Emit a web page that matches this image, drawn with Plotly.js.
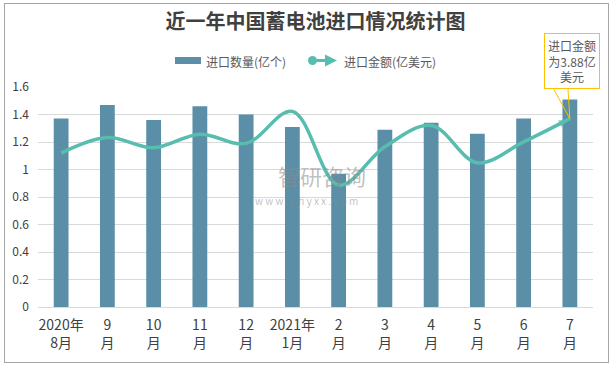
<!DOCTYPE html>
<html>
<head>
<meta charset="utf-8">
<script src="https://cdn.plot.ly/plotly-3.0.1.min.js"></script>
<style>
  html, body { margin: 0; padding: 0; background: #fff; }
  #wrap { position: relative; width: 613px; height: 367px; }
  #chart { position: absolute; left: 0; top: 0; width: 613px; height: 367px; }
  #frame { position: absolute; left: 4px; top: 3px; width: 603px; height: 358px;
           border: 1px solid #A6A6A6; pointer-events: none; }
</style>
</head>
<body>
<div id="wrap">
  <div id="chart"></div>
  <div id="frame"></div>
</div>
<script>
// ---- data ----
const categories = ['2020年<br>8月', '9<br>月', '10<br>月', '11<br>月', '12<br>月', '2021年<br>1月',
                    '2<br>月', '3<br>月', '4<br>月', '5<br>月', '6<br>月', '7<br>月'];
const quantity = [1.37, 1.47, 1.36, 1.46, 1.40, 1.31, 0.97, 1.29, 1.34, 1.26, 1.37, 1.51];   // 亿个
const amount = [3.17, 3.49, 3.28, 3.56, 3.37, 4.03, 2.51, 3.30, 3.74, 2.97, 3.40, 3.88];     // 亿美元
const seriesNames = ['进口数量(亿个)', '进口金额(亿美元)'];
const yTicks = [0, 0.2, 0.4, 0.6, 0.8, 1, 1.2, 1.4, 1.6];
const calloutText = '进口金额<br>为3.88亿<br>美元';

const barColor = '#5B8FA7';
const lineColor = '#56BDAF';
const last = categories.length - 1;

const markerSymbols = categories.map((c, i) => i === last ? 'arrow' : 'circle');
const markerColors = categories.map((c, i) => (i === 0 || i === last) ? lineColor : 'rgba(0,0,0,0)');
const markerSizes = categories.map((c, i) => i === last ? 12 : 11);

const traces = [
  {
    type: 'bar', name: seriesNames[0], x: categories, y: quantity,
    marker: { color: barColor }, yaxis: 'y', showlegend: false
  },
  {
    type: 'scatter', mode: 'lines+markers', name: seriesNames[1], x: categories, y: amount,
    yaxis: 'y2', showlegend: false,
    line: { color: lineColor, width: 3.5, shape: 'spline', smoothing: 1 },
    marker: { symbol: markerSymbols, color: markerColors, size: markerSizes,
              angleref: 'previous', line: { width: 0 } }
  }
];

const yMax = 1.6;
const y2Max = 3.88 / 1.37 * yMax;

// plot area in pixels: x 38..593, y 87..307
const W = 613, H = 367, L = 38, R = 20, T = 87, B = 60;
const pw = W - L - R, ph = H - T - B;
const px = v => (v - L) / pw;
const py = v => (H - B - v) / ph;

const legendFont = { size: 12, color: '#595959' };

const layout = {
  width: W, height: H,
  margin: { l: L, r: R, t: T, b: B, pad: 0 },
  paper_bgcolor: '#fff', plot_bgcolor: '#fff',
  font: { family: '"Noto Sans CJK SC", "Liberation Sans", sans-serif', color: '#595959', size: 12 },
  title: {
    text: '<b>近一年中国蓄电池进口情况统计图</b>',
    font: { family: '"Noto Sans CJK SC", serif', size: 20, color: '#404040' },
    x: 0.5, xref: 'paper', xanchor: 'center', y: 1 - 22 / H, yanchor: 'middle', yref: 'container'
  },
  bargap: 0.68,
  showlegend: false,
  xaxis: {
    type: 'category', range: [-0.5, categories.length - 0.5], automargin: false,
    showgrid: false, zeroline: false,
    showline: true, linecolor: '#D9D9D9', linewidth: 1,
    tickfont: { size: 14, color: '#404040' }, ticks: '', ticklabelstandoff: 5,
    tickangle: 0
  },
  yaxis: {
    range: [0, yMax], automargin: false, tickvals: yTicks, ticktext: yTicks.map(String),
    showgrid: true, gridcolor: '#D9D9D9', gridwidth: 1, zeroline: false,
    showline: false, ticks: '', ticklabelstandoff: 8,
    tickfont: { size: 12, color: '#404040' }
  },
  yaxis2: {
    range: [0, y2Max], overlaying: 'y', side: 'right', visible: false, showgrid: false, automargin: false
  },
  shapes: [
    // legend swatch for bars
    { type: 'rect', xref: 'paper', yref: 'paper', x0: px(175), x1: px(201), y0: py(64), y1: py(57),
      fillcolor: barColor, line: { width: 0 } },
    // legend swatch for line: circle
    { type: 'circle', xref: 'paper', yref: 'paper', x0: px(308), x1: px(317), y0: py(65), y1: py(56),
      fillcolor: lineColor, line: { width: 0 } }
  ],
  annotations: [
    { x: px(204), y: py(61), xref: 'paper', yref: 'paper', xanchor: 'left', yanchor: 'middle',
      text: seriesNames[0], showarrow: false, font: legendFont },
    { x: px(337), y: py(60.5), xref: 'paper', yref: 'paper', text: '',
      showarrow: true, arrowhead: 2, arrowsize: 0.8, arrowwidth: 3, arrowcolor: lineColor,
      ax: -24, ay: 0, standoff: 0, startstandoff: 0 },
    { x: px(342), y: py(61), xref: 'paper', yref: 'paper', xanchor: 'left', yanchor: 'middle',
      text: seriesNames[1], showarrow: false, font: legendFont },
    {
      x: last, y: amount[last], xref: 'x', yref: 'y2',
      text: calloutText, showarrow: false, xshift: 2, yshift: 58,
      bgcolor: '#fff', bordercolor: '#FFC000', borderwidth: 1, borderpad: 3,
      font: { size: 12, color: '#595959' }, align: 'center'
    },
    {
      x: last, y: amount[last], xref: 'x', yref: 'y2', text: '',
      showarrow: true, arrowhead: 0, arrowwidth: 1, arrowcolor: '#FFC000',
      ax: -17, ay: -31, standoff: 0, startstandoff: 0
    },
    {
      x: last, y: amount[last], xref: 'x', yref: 'y2', text: '',
      showarrow: true, arrowhead: 0, arrowwidth: 1, arrowcolor: '#FFC000',
      ax: -2, ay: -31, standoff: 0, startstandoff: 0
    },
    {
      x: px(322), y: py(175), xref: 'paper', yref: 'paper', text: '智研咨询', showarrow: false,
      font: { size: 22, color: 'rgba(140,140,140,0.55)' }
    },
    {
      x: px(306), y: py(200), xref: 'paper', yref: 'paper', text: 'w w w . c h y x x . c o m', showarrow: false,
      font: { size: 10, color: 'rgba(140,140,140,0.55)' }
    }
  ]
};

Plotly.newPlot('chart', traces, layout, { displayModeBar: false, staticPlot: true });
</script>
</body>
</html>
